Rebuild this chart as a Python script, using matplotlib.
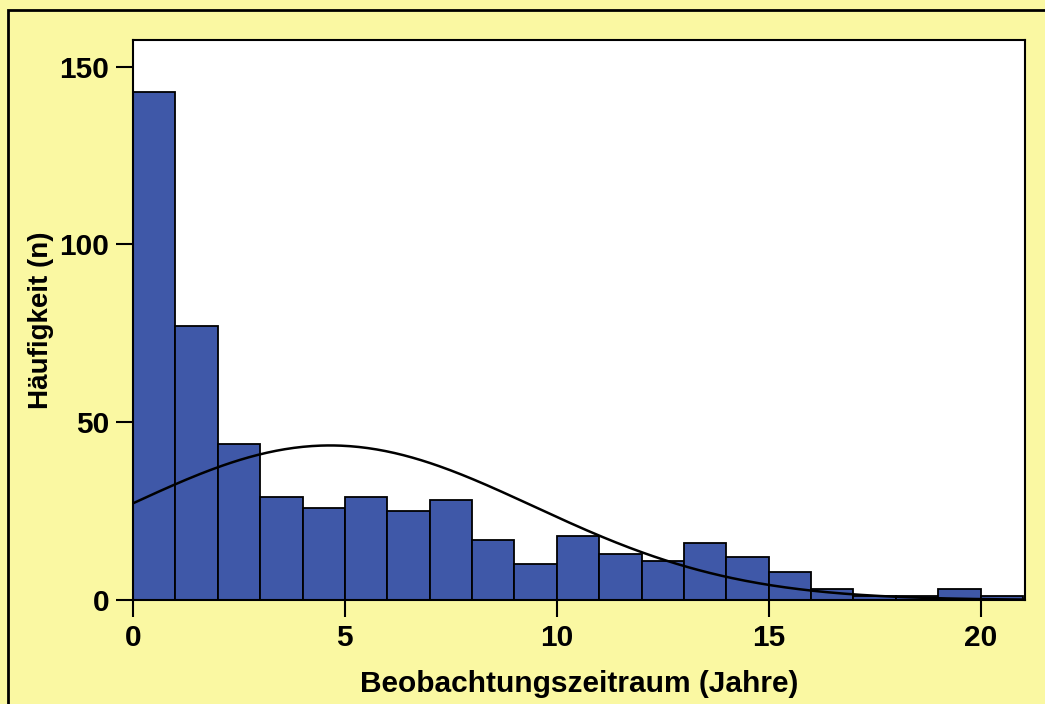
import numpy as np
import matplotlib.pyplot as plt
from matplotlib.patches import Rectangle

plt.rcParams['font.family'] = ['Liberation Sans', 'DejaVu Sans']

# counts per one-year bin, 0-1 ... 20-21
bin_edges = np.arange(0, 22)
counts = [143, 77, 44, 29, 26, 29, 25, 28, 17, 10, 18, 13, 11, 16, 12, 8, 3, 1, 1, 3, 1]

# fitted normal curve parameters
mu = 4.65
sigma = 4.8
n_total = 523

x_ticks = [0, 5, 10, 15, 20]
y_ticks = [0, 50, 100, 150]

fig = plt.figure(figsize=(10.45, 7.04), dpi=100)
fig.patch.set_facecolor('#faf8a2')
fig.patches.append(Rectangle((8 / 1045, -0.05), 1.1, 1 - 10 / 704 + 0.05,
                             transform=fig.transFigure, fill=False,
                             edgecolor='black', linewidth=2))

ax = fig.add_axes([133 / 1045, 1 - 600 / 704, (1025 - 133) / 1045, (600 - 40) / 704])
ax.set_facecolor('white')

ax.bar(bin_edges[:-1], counts, width=1.0, align='edge', color='#3f58a8',
       edgecolor='black', linewidth=1.3, zorder=2)

xs = np.linspace(0, 21.05, 400)
ys = n_total / (sigma * np.sqrt(2 * np.pi)) * np.exp(-(xs - mu) ** 2 / (2 * sigma ** 2))
ax.plot(xs, ys, color='black', linewidth=1.8, zorder=3)

ax.set_xlim(0, 21.05)
ax.set_ylim(0, 157.5)
ax.set_xticks(x_ticks)
ax.set_yticks(y_ticks)
ax.tick_params(direction='out', length=12, width=1.5, labelsize=21.5, pad=5)
for lab in ax.get_xticklabels() + ax.get_yticklabels():
    lab.set_fontweight('bold')
for sp in ax.spines.values():
    sp.set_linewidth(1.5)

ax.set_xlabel('Beobachtungszeitraum (Jahre)', fontsize=21.5, fontweight='bold', labelpad=13)
ax.set_ylabel('Häufigkeit (n)', fontsize=20, fontweight='bold', labelpad=4)

fig.savefig('out.png', dpi=100, facecolor=fig.get_facecolor())
